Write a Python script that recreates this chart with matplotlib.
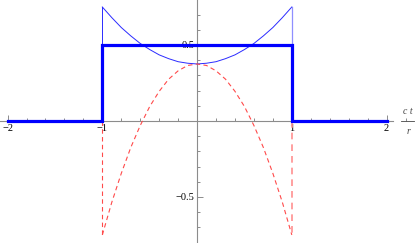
import matplotlib.pyplot as plt
from matplotlib.lines import Line2D
from matplotlib.ticker import MultipleLocator, FixedLocator

# thick step: value 0.5 inside |ct/r| < 1, zero outside
step_x = [-2, -1, -1, 1, 1, 2]
step_y = [0, 0, 0.5, 0.5, 0, 0]

curve_x = [-1.0, -0.9, -0.8, -0.7, -0.6, -0.5, -0.4, -0.3, -0.2, -0.1, 0.0,
           0.1, 0.2, 0.3, 0.4, 0.5, 0.6, 0.7, 0.8, 0.9, 1.0]
blue_y = [0.75, 0.68, 0.615, 0.56, 0.51, 0.47, 0.435, 0.41, 0.39, 0.38, 0.375,
          0.38, 0.39, 0.41, 0.435, 0.47, 0.51, 0.56, 0.615, 0.68, 0.75]
red_y = [-0.75, -0.535, -0.345, -0.175, -0.03, 0.095, 0.195, 0.275, 0.33, 0.365, 0.375,
         0.365, 0.33, 0.275, 0.195, 0.095, -0.03, -0.175, -0.345, -0.535, -0.75]

x_major = [-2, -1, 1, 2]
x_labels = ['\u22122', '\u22121', '1', '2']
y_major = [-0.5, 0.5]
y_labels = ['\u22120.5', '0.5']

plt.rcParams['font.family'] = ['Liberation Serif', 'DejaVu Serif']

fig = plt.figure(figsize=(4.15, 2.43), dpi=100)
ax = fig.add_axes([0, 0, 1, 1])
ax.set_xlim(-2.08, 2.30)
ax.set_ylim(-0.803, 0.796)

gray = '#8c8c8c'
for side in ['top', 'right']:
    ax.spines[side].set_visible(False)
ax.spines['left'].set_position('zero')
ax.spines['bottom'].set_position('zero')
ax.spines['bottom'].set_bounds(-2.08, 2.07)
for side in ['left', 'bottom']:
    ax.spines[side].set_color(gray)
    ax.spines[side].set_linewidth(0.8)

ax.xaxis.set_major_locator(FixedLocator(x_major))
ax.set_xticklabels(x_labels)
ax.xaxis.set_minor_locator(MultipleLocator(0.2))
ax.yaxis.set_major_locator(FixedLocator(y_major))
ax.set_yticklabels(y_labels)
ax.yaxis.set_minor_locator(MultipleLocator(0.1))
ax.tick_params(which='both', direction='in', color=gray, width=0.7, labelsize=7.5, pad=2)
ax.tick_params(which='major', length=4)
ax.tick_params(which='minor', length=2.3)

# thin blue curve with its edges down to the axis
ax.plot(curve_x, blue_y, color='#2b2bff', lw=0.7, zorder=3)
ax.plot([curve_x[0], curve_x[0]], [0, blue_y[0]], color='#2b2bff', lw=0.7, zorder=3)
ax.plot([curve_x[-1], curve_x[-1]], [0, blue_y[-1]], color='#8f8fff', lw=0.9, zorder=3)

# red dashed curve
ax.plot(curve_x, red_y, color='#ff4a4a', lw=0.8, dashes=(4, 3), zorder=3)
ax.plot([curve_x[0], curve_x[0]], [0, red_y[0]], color='#ff4a4a', lw=0.8, dashes=(4, 3), zorder=3)
ax.plot([curve_x[-1], curve_x[-1]], [0, red_y[-1]], color='#ff9090', lw=1.2, dashes=(4, 3), zorder=3)

# thick step
ax.plot(step_x, step_y, color='#0000ff', lw=2.3, zorder=4, solid_joinstyle='miter')

# axis label c t / r
fig.text(408 / 415, 1 - 111 / 243, 'c t', style='italic', fontsize=7, ha='center', va='center', color='#444444')
fig.text(408 / 415, 1 - 131 / 243, 'r', style='italic', fontsize=7, ha='center', va='center', color='#444444')
fig.add_artist(Line2D([401 / 415, 414 / 415], [1 - 121.5 / 243] * 2, color='#444444', lw=0.6))

fig.savefig('out.png', dpi=100)
